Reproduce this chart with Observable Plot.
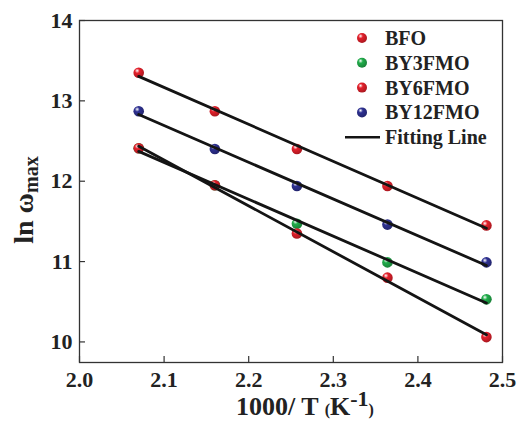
<!DOCTYPE html>
<html><head><meta charset="utf-8">
<script src="https://cdn.jsdelivr.net/npm/d3@7"></script>
<script src="https://cdn.jsdelivr.net/npm/@observablehq/plot@0.6"></script>
<style>body{margin:0;background:#fff} #chart{position:relative;width:517px;height:421px}</style>
</head><body><div id="chart"></div>
<script>
// ---- data ----
const xValues = [2.070, 2.160, 2.257, 2.364, 2.481];
const seriesNames = ["BFO", "BY3FMO", "BY6FMO", "BY12FMO"];
const seriesColors = ["#e4202b", "#21ad4b", "#e4202b", "#2e3192"];
const bfoValues = [13.35, 12.87, 12.40, 11.94, 11.45];
const by3Values = [12.41, 11.95, 11.47, 10.99, 10.53];
const by6Values = [12.41, 11.95, 11.35, 10.80, 10.06];
const by12Values = [12.87, 12.40, 11.94, 11.46, 10.99];
const yTickValues = [10, 11, 12, 13, 14];
const xTickValues = [2.0, 2.1, 2.2, 2.3, 2.4, 2.5];
const fitLabel = "Fitting Line";
const xLabel = ["1000/ T ", "(", "K", "-1", ")"];
const yLabel = ["ln ω", "max"];

const seriesValues = [bfoValues, by3Values, by6Values, by12Values];
const rows = [];
seriesNames.forEach((s, i) => xValues.forEach((x, j) =>
  rows.push({series: s, x, y: seriesValues[i][j], color: seriesColors[i]})));

const W = 517, H = 421;
const mL = 79, mT = 20, mR = 15, mB = 59;
const plotW = W - mL - mR, plotH = H - mT - mB;
const font = "Liberation Serif, Times New Roman, serif";

const chart = Plot.plot({
  width: W, height: H,
  marginLeft: mL, marginTop: mT, marginRight: mR, marginBottom: mB,
  style: {fontFamily: font, fontWeight: "bold", fontSize: "22px", color: "#222", background: "#fff"},
  x: {domain: [2.0, 2.5]},
  y: {domain: [9.744, 14]},
  color: {type: "identity"},
  marks: [
    Plot.axisX(xTickValues, {tickSize: 0, tickPadding: 9, tickFormat: d3.format(".1f"), label: null, fontSize: 22, fontWeight: "bold"}),
    Plot.axisY(yTickValues, {tickSize: 0, tickPadding: 7, tickFormat: d3.format("d"), label: null, fontSize: 22, fontWeight: "bold"}),
    Plot.tickX(xTickValues, {x: d => d, stroke: "#333", strokeWidth: 1.2, insetTop: plotH - 6}),
    Plot.tickY(yTickValues, {y: d => d, stroke: "#333", strokeWidth: 1.2, insetRight: plotW - 6}),
    Plot.frame({stroke: "#333", strokeWidth: 1.3}),
    Plot.dot(rows, {x: "x", y: "y", r: 5.3, fill: "color", stroke: "none"}),
    Plot.linearRegressionY(rows, {x: "x", y: "y", z: "series", stroke: "#141414", strokeWidth: 2.8, ci: 0})
  ]
});

document.getElementById("chart").appendChild(chart);
const svg = d3.select(chart);

// sphere shading
const defs = svg.insert("defs", ":first-child");
const uniq = [...new Set(seriesColors)];
uniq.forEach((c, i) => {
  const g = defs.append("radialGradient").attr("id", "sph" + i)
    .attr("cx", "0.38").attr("cy", "0.35").attr("r", "0.65").attr("fx", "0.35").attr("fy", "0.3");
  g.append("stop").attr("offset", "0").attr("stop-color", "#ffffff");
  g.append("stop").attr("offset", "0.35").attr("stop-color", c);
  g.append("stop").attr("offset", "1").attr("stop-color", d3.color(c).darker(0.8));
});
svg.selectAll("circle").each(function() {
  const f = this.getAttribute("fill");
  if (!f) return;
  const idx = uniq.findIndex(c => d3.color(c).formatHex() === d3.color(f).formatHex());
  if (idx >= 0) this.setAttribute("fill", `url(#sph${idx})`);
});

// y label
const yl = svg.append("text").attr("transform", `translate(33,${mT + plotH / 2 + 9}) rotate(-90)`)
  .attr("text-anchor", "middle").attr("font-size", 28).attr("font-weight", "bold").attr("fill", "#222");
yl.append("tspan").text(yLabel[0]);
yl.append("tspan").attr("font-size", 20).attr("dy", 5).text(yLabel[1]);

// x label
const xl = svg.append("text").attr("x", 305).attr("y", 415)
  .attr("text-anchor", "middle").attr("font-weight", "bold").attr("fill", "#222");
xl.append("tspan").attr("font-size", 26).text(xLabel[0]);
xl.append("tspan").attr("font-size", 16).text(xLabel[1]);
xl.append("tspan").attr("font-size", 26).text(xLabel[2]);
xl.append("tspan").attr("font-size", 22).attr("dy", -9).text(xLabel[3]);
xl.append("tspan").attr("font-size", 16).attr("dy", 9).text(xLabel[4]);

// legend
const lg = svg.append("g").attr("font-size", 20).attr("font-weight", "bold").attr("fill", "#222")
  .attr("text-anchor", "start");
const rowY = i => 38 + i * 24.8;
seriesNames.forEach((s, i) => {
  const idx = uniq.indexOf(seriesColors[i]);
  lg.append("circle").attr("cx", 362).attr("cy", rowY(i)).attr("r", 5).attr("fill", `url(#sph${idx})`);
  lg.append("text").attr("x", 385).attr("y", rowY(i)).attr("dy", "0.35em").text(s);
});
lg.append("line").attr("x1", 345).attr("x2", 380).attr("y1", rowY(4)).attr("y2", rowY(4))
  .attr("stroke", "#141414").attr("stroke-width", 2.6);
lg.append("text").attr("x", 385).attr("y", rowY(4)).attr("dy", "0.35em").text(fitLabel);
</script></body></html>
